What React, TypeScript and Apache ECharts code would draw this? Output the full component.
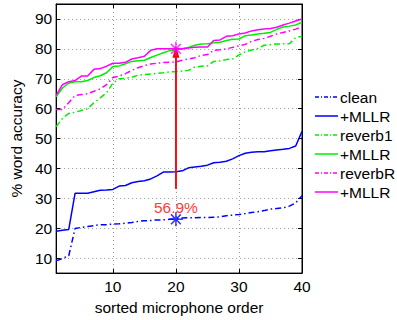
import React, { useEffect, useRef } from "react";
import * as echarts from "echarts";

const micOrder: number[] = Array.from({ length: 40 }, (_, i) => i + 1);

const cleanVals = [9.1, 9.9, 10.8, 19.9, 20.3, 20.6, 20.9, 21.2, 21.2, 21.4, 21.5, 21.7, 21.9, 22.3, 22.5, 22.6, 22.8, 22.8, 23.0, 23.2, 23.4, 23.5, 23.5, 23.6, 23.6, 23.7, 23.8, 24.2, 24.4, 24.6, 24.9, 25.3, 25.5, 25.9, 26.4, 26.6, 26.8, 27.4, 28.5, 30.9];
const cleanMllrVals = [19.0, 19.3, 19.6, 31.7, 31.7, 31.7, 32.2, 32.7, 32.8, 33.0, 34.1, 34.3, 35.2, 35.6, 35.9, 36.5, 37.5, 38.8, 38.8, 38.9, 39.2, 40.2, 40.5, 40.7, 41.1, 41.9, 42.1, 42.4, 43.2, 44.3, 45.1, 45.4, 45.6, 45.6, 45.9, 46.2, 46.4, 46.7, 47.5, 52.4];
const reverb1Vals = [54.0, 56.7, 58.4, 58.8, 59.4, 60.0, 62.0, 63.6, 65.3, 68.5, 70.0, 70.1, 70.5, 71.2, 71.4, 71.6, 71.8, 72.0, 72.3, 72.3, 72.6, 72.8, 73.9, 74.2, 74.3, 75.8, 76.0, 76.4, 76.6, 78.0, 79.0, 79.6, 80.1, 81.2, 81.4, 81.6, 81.7, 81.7, 83.8, 84.1];
const reverb1MllrVals = [64.0, 66.9, 68.5, 69.0, 69.0, 69.4, 70.4, 71.0, 72.0, 74.1, 74.3, 75.0, 75.8, 76.0, 76.2, 77.1, 77.9, 78.7, 79.4, 79.8, 80.0, 80.5, 81.2, 81.6, 81.7, 82.0, 82.2, 82.8, 83.2, 83.3, 84.4, 84.6, 85.0, 85.2, 85.5, 86.5, 87.3, 87.6, 88.0, 88.9];
const reverbRVals = [59.7, 59.7, 62.0, 64.4, 64.7, 65.0, 65.8, 66.6, 68.0, 70.4, 70.9, 71.7, 72.8, 73.7, 74.4, 74.9, 75.2, 75.4, 75.5, 75.6, 76.2, 76.6, 77.0, 77.8, 78.1, 79.5, 79.7, 80.0, 80.5, 81.0, 81.5, 82.5, 83.1, 83.5, 84.2, 85.0, 85.5, 86.0, 86.6, 87.3];
const reverbRMllrVals = [64.4, 68.0, 69.0, 69.4, 70.9, 70.9, 73.2, 73.4, 74.2, 75.2, 75.2, 75.5, 76.6, 77.0, 77.5, 79.5, 80.0, 80.0, 80.0, 80.1, 80.0, 80.3, 80.5, 80.6, 80.6, 82.8, 83.0, 84.2, 84.4, 85.0, 85.3, 86.0, 86.4, 86.6, 86.8, 87.2, 88.0, 88.6, 89.3, 90.0];

const seriesNames = ["clean", "+MLLR", "reverb1", "+MLLR", "reverbR", "+MLLR"];
const seriesColors = ["#0000ff", "#0000ff", "#00ee00", "#00ee00", "#ff00ff", "#ff00ff"];
const seriesDashed = [true, false, true, false, true, false];
const seriesValues = [cleanVals, cleanMllrVals, reverb1Vals, reverb1MllrVals, reverbRVals, reverbRMllrVals];

const yTicks = [10, 20, 30, 40, 50, 60, 70, 80, 90];
const xTicks = [10, 20, 30, 40];

const starPoints: [number, number, string][] = [
  [20, 80, "#ff00ff"],
  [20, 23, "#0000ff"],
];
const arrowFrom: [number, number] = [20, 33.2];
const arrowTo: [number, number] = [20, 79];
const gainLabel = { x: 20, y: 27, text: "56.9%" };

const FONT = "'Liberation Sans', Arial, Helvetica, sans-serif";
const FS = 15.5;
const DASH_DOT = [6, 3, 1.5, 3];
const STAR = "path://M10,0L10,20M0,10L20,10M3,3L17,17M3,17L17,3";

export default function App() {
  const ref = useRef<HTMLDivElement>(null);
  useEffect(() => {
    document.body.style.margin = "0";
    const chart = echarts.init(ref.current!, null, { renderer: "svg" });
    const lineSeries = seriesValues.map((vals, i) => ({
      type: "line",
      name: seriesNames[i],
      data: vals.map((v, j) => [micOrder[j], v]),
      showSymbol: false,
      symbol: "none",
      lineStyle: {
        color: seriesColors[i],
        width: 1.5,
        type: seriesDashed[i] ? DASH_DOT : "solid",
      },
      z: 3,
    }));

    const legendX0 = 315;
    const legendX1 = 338;
    const legendY0 = 97;
    const legendStep = 19;
    const legendGraphics: any[] = [];
    seriesNames.forEach((n, i) => {
      const y = legendY0 + i * legendStep;
      legendGraphics.push({
        type: "line",
        shape: { x1: legendX0, y1: y, x2: legendX1, y2: y },
        style: {
          stroke: seriesColors[i],
          lineWidth: 1.5,
          lineDash: seriesDashed[i] ? [4, 2, 1, 2] : null,
        },
      });
      legendGraphics.push({
        type: "text",
        x: legendX1 + 2,
        y,
        style: {
          text: n,
          fill: "#000",
          font: `${FS}px ${FONT}`,
          verticalAlign: "middle",
        },
      });
    });

    const option: any = {
      animation: false,
      backgroundColor: "#fff",
      textStyle: { fontFamily: FONT },
      grid: {
        left: 48,
        right: 95,
        top: 4,
        bottom: 37,
        show: true,
        borderColor: "#000",
        borderWidth: 1,
        backgroundColor: "transparent",
      },
      xAxis: [
        {
          type: "value",
          min: 1,
          max: 40,
          name: "sorted microphone order",
          nameLocation: "middle",
          nameGap: 20,
          nameTextStyle: { fontSize: FS, color: "#000", fontFamily: FONT },
          axisLine: { show: true, lineStyle: { color: "#000" } },
          axisTick: { show: true, inside: true, length: 4, customValues: xTicks, lineStyle: { color: "#000" } },
          axisLabel: { customValues: xTicks, fontSize: FS, color: "#000", margin: 5, fontFamily: FONT },
          splitLine: { show: true, lineStyle: { color: "#999", type: [1, 3], width: 1 } },
        },
        {
          type: "value",
          position: "top",
          min: 1,
          max: 40,
          axisLine: { show: true, lineStyle: { color: "#000" } },
          axisTick: { show: true, inside: true, length: 4, customValues: xTicks, lineStyle: { color: "#000" } },
          axisLabel: { show: false },
          splitLine: { show: false },
        },
      ],
      yAxis: [
        {
          type: "value",
          min: 5,
          max: 95,
          name: "% word accuracy",
          nameLocation: "middle",
          nameGap: 28,
          nameRotate: 90,
          nameTextStyle: { fontSize: FS, color: "#000", fontFamily: FONT },
          axisLine: { show: true, lineStyle: { color: "#000" } },
          axisTick: { show: true, inside: true, length: 4, customValues: yTicks, lineStyle: { color: "#000" } },
          axisLabel: { customValues: yTicks, fontSize: FS, color: "#000", margin: 4, fontFamily: FONT },
          splitLine: { show: true, lineStyle: { color: "#999", type: [1, 3], width: 1 } },
        },
        {
          type: "value",
          position: "right",
          min: 5,
          max: 95,
          axisLine: { show: true, lineStyle: { color: "#000" } },
          axisTick: { show: true, inside: true, length: 4, customValues: yTicks, lineStyle: { color: "#000" } },
          axisLabel: { show: false },
          splitLine: { show: false },
        },
      ],
      series: [
        ...lineSeries,
        {
          type: "line",
          name: "arrow",
          data: [arrowFrom, arrowTo],
          symbol: "none",
          lineStyle: { color: "#ff0000", width: 1.5 },
          z: 4,
          markLine: {
            silent: true,
            symbol: ["none", "triangle"],
            symbolSize: [7, 12],
            lineStyle: { color: "#ff0000", width: 1.5, type: "solid" },
            label: { show: false },
            data: [[{ coord: arrowFrom }, { coord: arrowTo }]],
          },
        },
        {
          type: "scatter",
          name: "stars",
          data: starPoints.map((p) => ({
            value: [p[0], p[1]],
            itemStyle: { color: "none", borderColor: p[2], borderWidth: 1.5 },
          })),
          symbol: STAR,
          symbolSize: 14,
          z: 6,
        },
        {
          type: "scatter",
          name: "gain",
          data: [[gainLabel.x, gainLabel.y]],
          symbolSize: 0,
          label: {
            show: true,
            position: "inside",
            formatter: gainLabel.text,
            color: "#ff0000",
            fontSize: FS,
            fontFamily: FONT,
          },
          z: 5,
        },
      ],
      graphic: legendGraphics,
    };
    chart.setOption(option);
    return () => chart.dispose();
  }, []);
  return (
    <div
      ref={ref}
      style={{ position: "fixed", left: 0, top: 0, width: 397, height: 320 }}
    />
  );
}
